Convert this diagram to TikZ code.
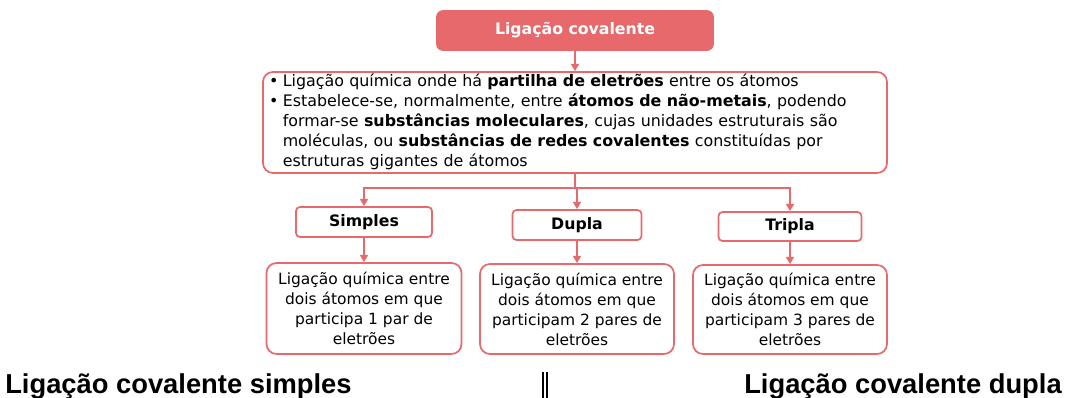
\documentclass[tikz,border=0pt]{standalone}
\usepackage{fontspec}
\setmainfont{DejaVu Sans}
\newfontfamily\arialfont{Liberation Sans}
\usetikzlibrary{arrows.meta}
\definecolor{cred}{RGB}{232,105,108}
\begin{document}
\begin{tikzpicture}[x=0.75pt,y=-0.75pt,
  box/.style={draw=cred,line width=1.3pt,rounded corners=7.5pt,fill=white,inner sep=0pt,font=\fontsize{11.6pt}{15pt}\selectfont},
  lbl/.style={box,rounded corners=3pt,font=\fontsize{11.8pt}{14pt}\selectfont\bfseries},
  desc/.style={box,align=center},
  arr/.style={draw=cred,line width=1.4pt,-{Triangle[length=5.5pt,width=6pt]}},
  ln/.style={draw=cred,line width=1.4pt},
  big/.style={font=\arialfont\fontsize{20.5pt}{24pt}\selectfont\bfseries}]
\useasboundingbox (0,0) rectangle (1066,398);
\node[box,fill=cred,text=white,rounded corners=4.5pt,minimum width=276*0.75pt,minimum height=39*0.75pt,font=\fontsize{11.8pt}{14pt}\selectfont\bfseries] (top) at (575,30.5) {Ligação covalente};
\node[box,minimum width=624*0.75pt,minimum height=101*0.75pt,align=left,text width=612*0.75pt,font=\fontsize{11.9pt}{15pt}\selectfont] (main) at (575,122.5) {%
\begin{tabular}{@{}l@{\hspace{3.3pt}}l@{}}
• & Ligação química onde há \textbf{partilha de eletrões} entre os átomos\\
• & Estabelece-se, normalmente, entre \textbf{átomos de não-metais}, podendo\\
 & formar-se \textbf{substâncias moleculares}, cujas unidades estruturais são\\
 & moléculas, ou \textbf{substâncias de redes covalentes} constituídas por\\
 & estruturas gigantes de átomos
\end{tabular}};
\node[lbl,minimum width=136*0.75pt,minimum height=30*0.75pt] (s) at (364,222) {Simples};
\node[lbl,minimum width=129*0.75pt,minimum height=30*0.75pt] (d) at (577,225) {Dupla};
\node[lbl,minimum width=143*0.75pt,minimum height=29*0.75pt] (t) at (790,226.5) {Tripla};
\node[desc,minimum width=195*0.75pt,minimum height=91*0.75pt] (sd) at (364,308.5) {Ligação química entre\\dois átomos em que\\participa 1 par de\\eletrões};
\node[desc,minimum width=194*0.75pt,minimum height=90*0.75pt] (dd) at (577,309) {Ligação química entre\\dois átomos em que\\participam 2 pares de\\eletrões};
\node[desc,minimum width=194*0.75pt,minimum height=89*0.75pt] (td) at (790,309.5) {Ligação química entre\\dois átomos em que\\participam 3 pares de\\eletrões};
\draw[arr] (top.south) -- (main.north);
\draw[ln] (main.south) -- ++(0,14.5) coordinate (j);
\draw[arr] (j) -| (s.north);
\draw[arr] (j) -| (d.north);
\draw[arr] (j) -| (t.north);
\draw[arr] (s.south) -- (sd.north);
\draw[arr] (d.south) -- (dd.north);
\draw[arr] (t.south) -- (td.north);
\node[big,anchor=base west,inner sep=0pt] (l1) at (5,393) {Ligação covalente simples};
\node[big,anchor=base east,inner sep=0pt] (l2) at (1062,393) {Ligação covalente dupla};
\coordinate (b1) at (543,372);
\coordinate (b2) at (547,372);
\draw[line width=0.8pt] (b1) -- ++(0,26);
\draw[line width=0.8pt] (b2) -- ++(0,26);
\end{tikzpicture}
\end{document}
